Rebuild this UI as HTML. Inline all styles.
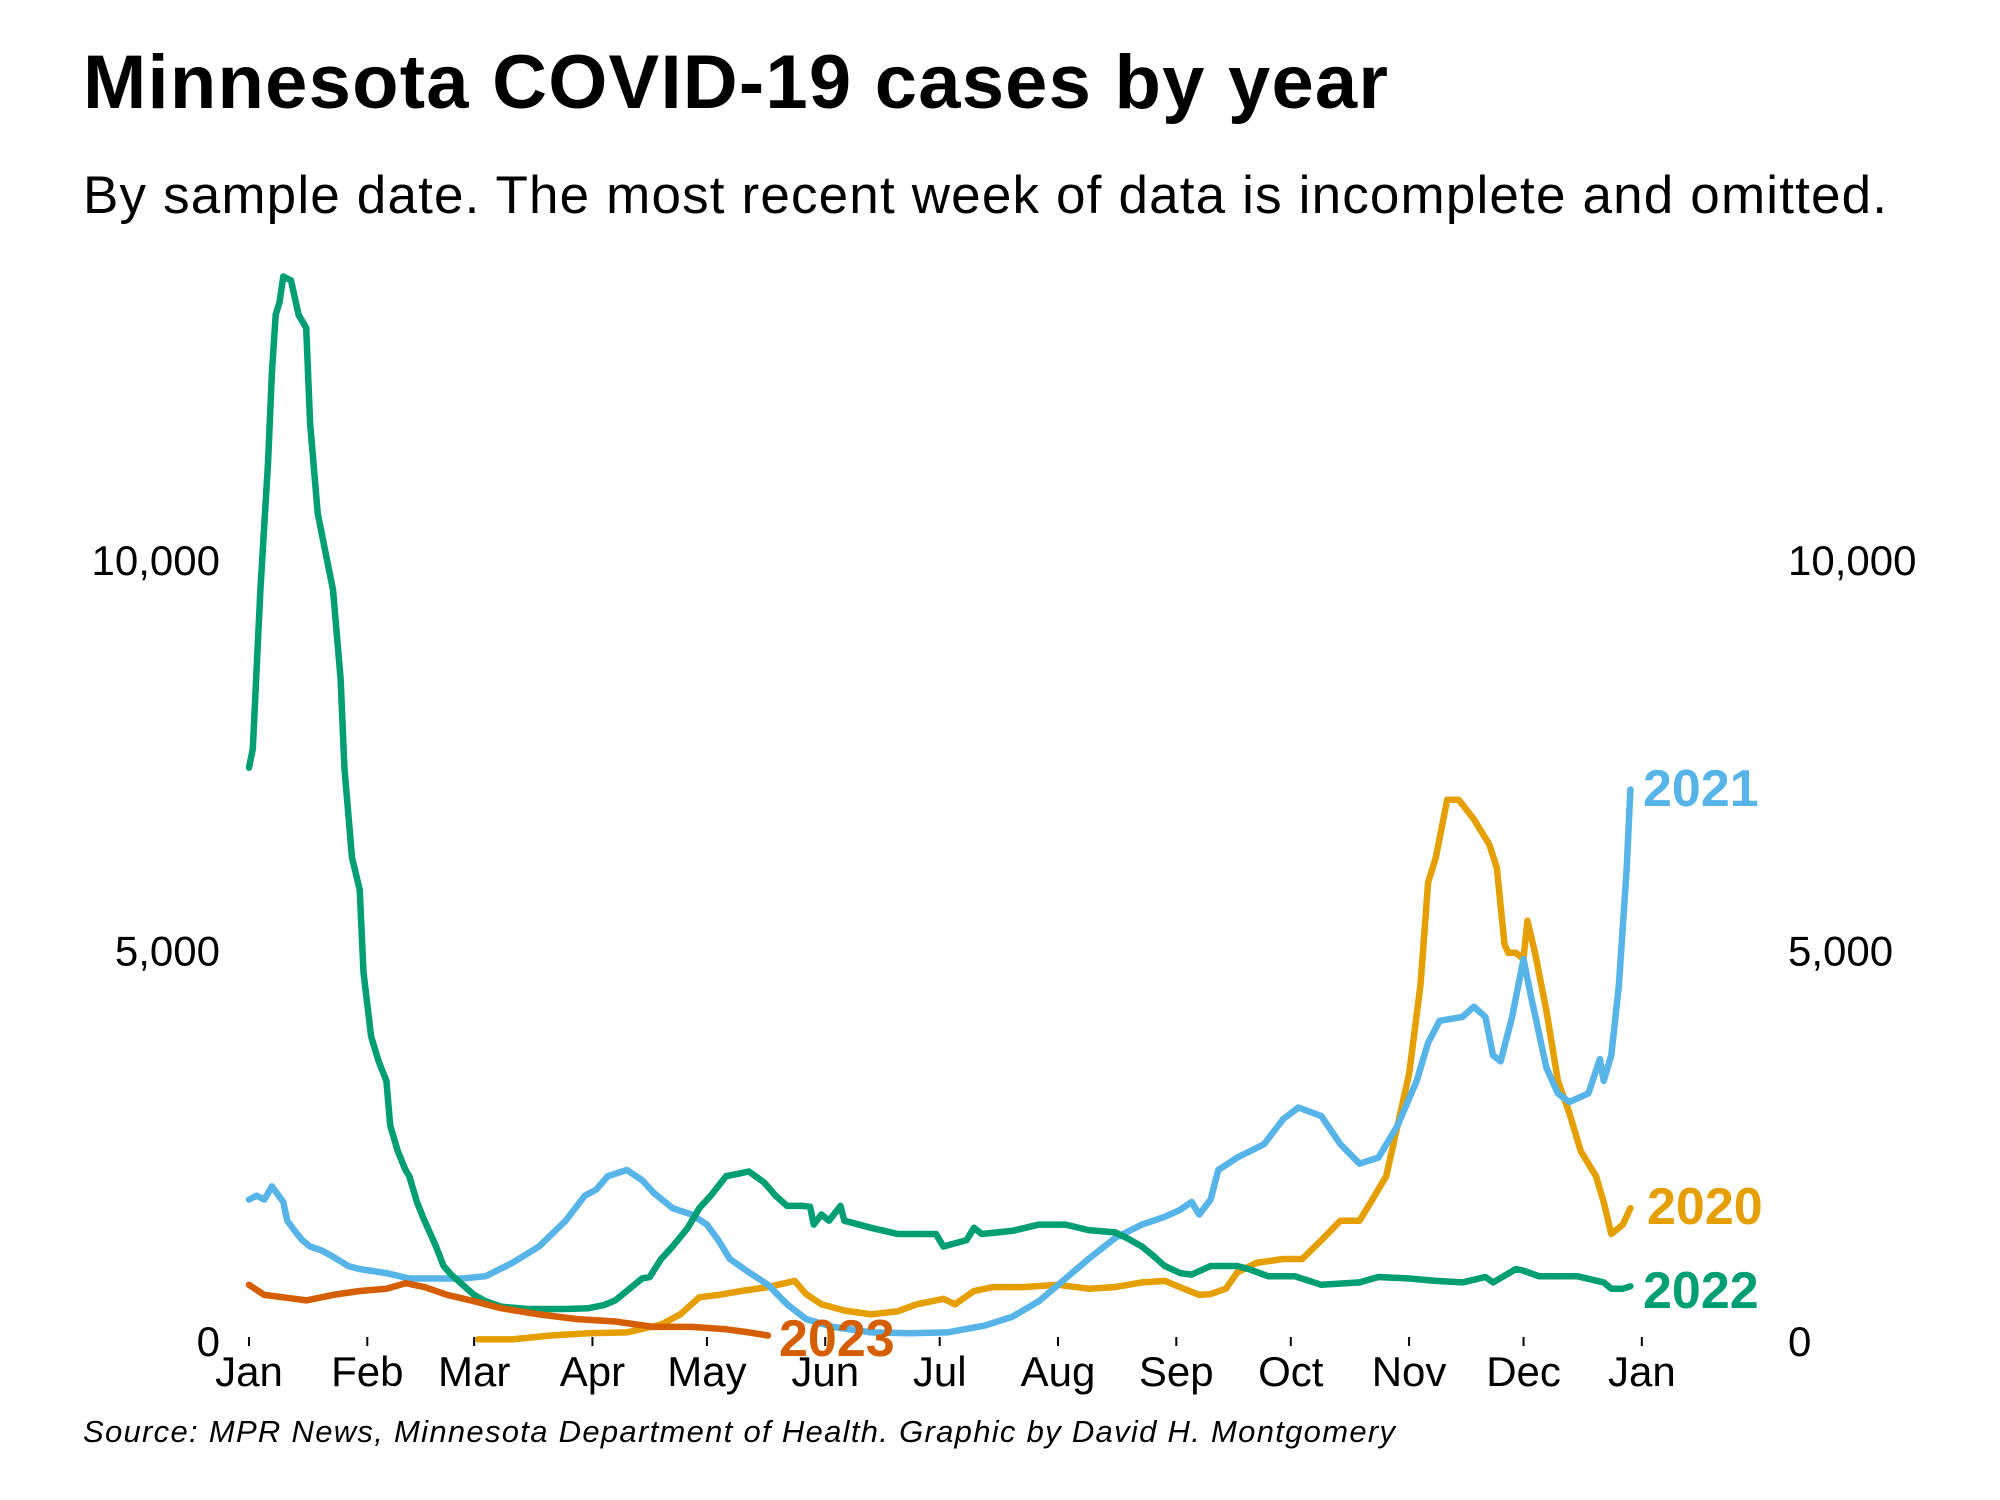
<!DOCTYPE html>
<html><head><meta charset="utf-8"><style>
body{margin:0;background:#fff}
svg{display:block;font-family:"Liberation Sans",sans-serif}
</style></head><body>
<svg id="chart" width="2000" height="1500" viewBox="0 0 2000 1500">
<text x="83" y="108" font-size="76" font-weight="bold" textLength="1305">Minnesota COVID-19 cases by year</text>
<text x="83" y="213" font-size="53" textLength="1804">By sample date. The most recent week of data is incomplete and omitted.</text>
<text x="83" y="1442" font-size="31" font-style="italic" textLength="1312">Source: MPR News, Minnesota Department of Health. Graphic by David H. Montgomery</text>
<g id="axes"></g>
<g id="lines"></g>
<g id="labels"></g>
</svg>
<script>
const monthLabels=["Jan","Feb","Mar","Apr","May","Jun","Jul","Aug","Sep","Oct","Nov","Dec","Jan"];
const monthDays=[0,31,59,90,120,151,181,212,243,273,304,334,365];
const yTicks=[0,5000,10000];
const yTickLabels=["0","5,000","10,000"];

const days2022=[0,1,3,5,6,7,8,9,11,13,15,16,18,20,22,24,25,27,29,30,32,34,36,37,39,41,42,44,46,48,49,51,53,56,59,62,66,73,83,89,93,96,99,103,105,108,111,115,118,121,125,128,131,135,138,141,145,147,148,150,152,155,156,163,170,177,180,182,188,190,192,200,207,214,220,227,230,234,237,240,244,247,252,259,262,267,274,281,291,296,304,311,318,324,326,332,334,338,348,355,357,360,362];
const vals2022=[7340,7580,9620,11260,12400,13140,13300,13630,13580,13140,12970,11750,10600,10110,9620,8480,7340,6190,5780,4720,3900,3580,3330,2760,2430,2190,2110,1780,1540,1320,1210,960,850,720,590,510,440,410,410,420,460,520,640,800,820,1050,1210,1450,1700,1860,2110,2140,2170,2030,1860,1730,1730,1720,1490,1620,1540,1730,1540,1450,1370,1370,1370,1210,1290,1450,1370,1410,1490,1490,1420,1390,1320,1210,1090,960,870,850,960,960,920,830,830,720,750,820,800,770,750,820,750,920,900,830,830,750,670,670,700];

const days2021=[0,2,4,6,9,10,12,14,16,19,22,26,29,36,42,51,56,62,69,76,83,88,91,94,99,103,106,111,116,120,123,126,131,136,141,146,153,163,173,183,193,200,207,214,220,227,234,240,244,247,249,252,254,259,266,271,275,281,286,291,296,301,306,309,312,318,321,324,326,328,331,334,336,340,343,346,351,354,355,357,359,361,362];
const vals2021=[1810,1860,1810,1980,1780,1540,1410,1290,1210,1160,1080,960,920,870,800,800,800,830,1000,1210,1540,1860,1940,2110,2190,2060,1900,1700,1620,1490,1290,1050,880,720,470,280,180,110,100,110,200,310,510,800,1050,1320,1490,1590,1680,1780,1620,1810,2190,2350,2520,2840,2990,2880,2520,2270,2350,2760,3330,3820,4100,4150,4280,4150,3660,3580,4150,4890,4400,3500,3170,3060,3170,3610,3330,3660,4560,6030,7060];

const days2020=[60,69,79,89,99,108,113,118,123,129,136,143,146,150,156,163,170,175,182,185,190,195,203,212,220,227,234,240,245,249,252,256,259,264,271,276,281,286,291,294,298,301,304,307,309,311,314,317,321,325,327,329,330,332,334,335,337,340,343,346,349,353,355,357,360,362];
const vals2020=[20,20,70,100,110,210,340,560,590,640,690,770,600,470,390,340,380,470,540,470,640,690,690,720,670,690,750,770,670,590,600,670,880,1000,1050,1050,1290,1540,1540,1780,2110,2760,3420,4560,5870,6190,6930,6930,6680,6360,6060,5080,4970,4970,4890,5380,4970,4230,3330,2920,2430,2110,1780,1370,1490,1700];

const days2023=[0,4,9,15,22,29,36,41,46,52,59,66,76,86,96,106,116,125,131,136];
const vals2023=[720,590,560,520,590,640,670,740,690,590,510,420,340,280,250,180,180,150,110,70];

const NS="http://www.w3.org/2000/svg";
const x=d=>249+d*3.816;
const y=v=>1341-v*0.0781;
function mk(tag,attrs,parent,text){const e=document.createElementNS(NS,tag);for(const k in attrs)e.setAttribute(k,attrs[k]);if(text!==undefined)e.textContent=text;parent.appendChild(e);return e;}
const axes=document.getElementById('axes');
monthDays.forEach((d,i)=>{
  const t=mk('line',{x1:x(d),x2:x(d),y1:1337,y2:1346,stroke:'#000','stroke-width':2},axes);
  
  
  const l=mk('text',{x:x(d),y:1386,'font-size':42,'text-anchor':'middle'},axes,monthLabels[i]);
  
  
});
yTicks.forEach((v,i)=>{
  const a=mk('text',{x:220,y:y(v)+15,'font-size':42,'text-anchor':'end'},axes,yTickLabels[i]);
  
  
  const b=mk('text',{x:1788,y:y(v)+15,'font-size':42,'text-anchor':'start'},axes,yTickLabels[i]);
  
  
});
const lines=document.getElementById('lines');
const series=[["2020",days2020,vals2020,"#e69f00"],["2021",days2021,vals2021,"#56b4e9"],["2022",days2022,vals2022,"#009e73"],["2023",days2023,vals2023,"#d55e00"]];
series.forEach(s=>{
  const pts=s[1].map((d,i)=>x(d).toFixed(1)+","+y(s[2][i]).toFixed(1)).join(" ");
  const p=mk('polyline',{points:pts,fill:'none',stroke:s[3],'stroke-width':6.5,'stroke-linejoin':'round','stroke-linecap':'round'},lines);
  
  
});
const labels=document.getElementById('labels');
const lab=[["2021",1643,806,"#56b4e9"],["2020",1647,1224,"#e69f00"],["2022",1643,1308,"#009e73"],["2023",779,1356,"#d55e00"]];
lab.forEach(l=>{
  const t=mk('text',{x:l[1],y:l[2],'font-size':52,'font-weight':'bold',fill:l[3]},labels,l[0]);
  
  
});
</script>
</body></html>
